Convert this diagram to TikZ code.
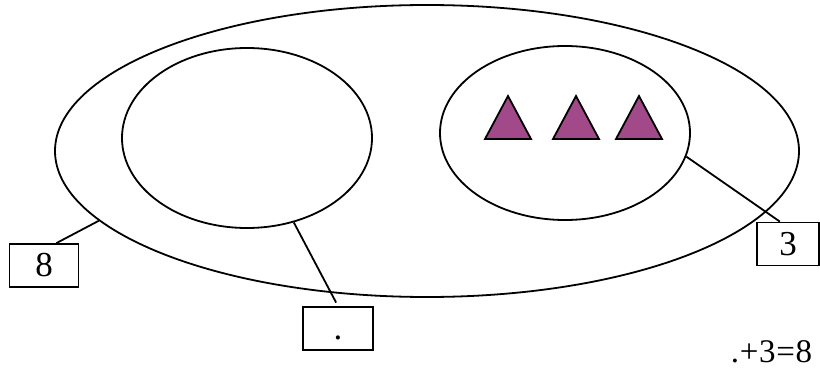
\documentclass[tikz,border=0pt]{standalone}
\usepackage{fontspec}
\setmainfont{Liberation Serif}
\usetikzlibrary{shapes.geometric}
\definecolor{trifill}{RGB}{162,73,138}

\begin{document}
\begin{tikzpicture}[x=1pt, y=-1pt, line width=1.8pt,
			set/.style={draw, ellipse, inner sep=0pt},
			numbox/.style={draw, minimum height=43pt, inner sep=0pt, font=\fontsize{35}{35}\selectfont, text height=22pt, text depth=0pt},
			tri/.style={fill=trifill, draw, line join=miter}]
			\useasboundingbox (0,0) rectangle (820,369);
			\node[set, minimum width=744pt, minimum height=292pt] (all) at (427,151) {};
			\node[set, minimum width=250pt, minimum height=180pt] (left) at (247,138) {};
			\node[set, minimum width=250pt, minimum height=174pt] (right) at (565,133) {};
			\foreach \x in {508,576,639}
				\draw[tri] (\x-23,139) -- (\x,96) -- (\x+23,139) -- cycle;
			\node[numbox, minimum width=69pt] (b8) at (44,265.5) {8};
			\node[numbox, minimum width=70pt] (bq) at (338,328.5) {.};
			\node[numbox, minimum width=62pt] (b3) at (788,244) {3};
			\draw (all.192) -- (b8.61);
			\draw[shorten >=4pt] (left.299) -- (bq.north);
			\draw (right.349) -- (b3.110);
			\node[anchor=base east, font=\fontsize{33}{33}\selectfont\addfontfeature{LetterSpace=2}, inner sep=0pt] (eq) at (813,362) {.+3=8};
		\end{tikzpicture}
\end{document}
